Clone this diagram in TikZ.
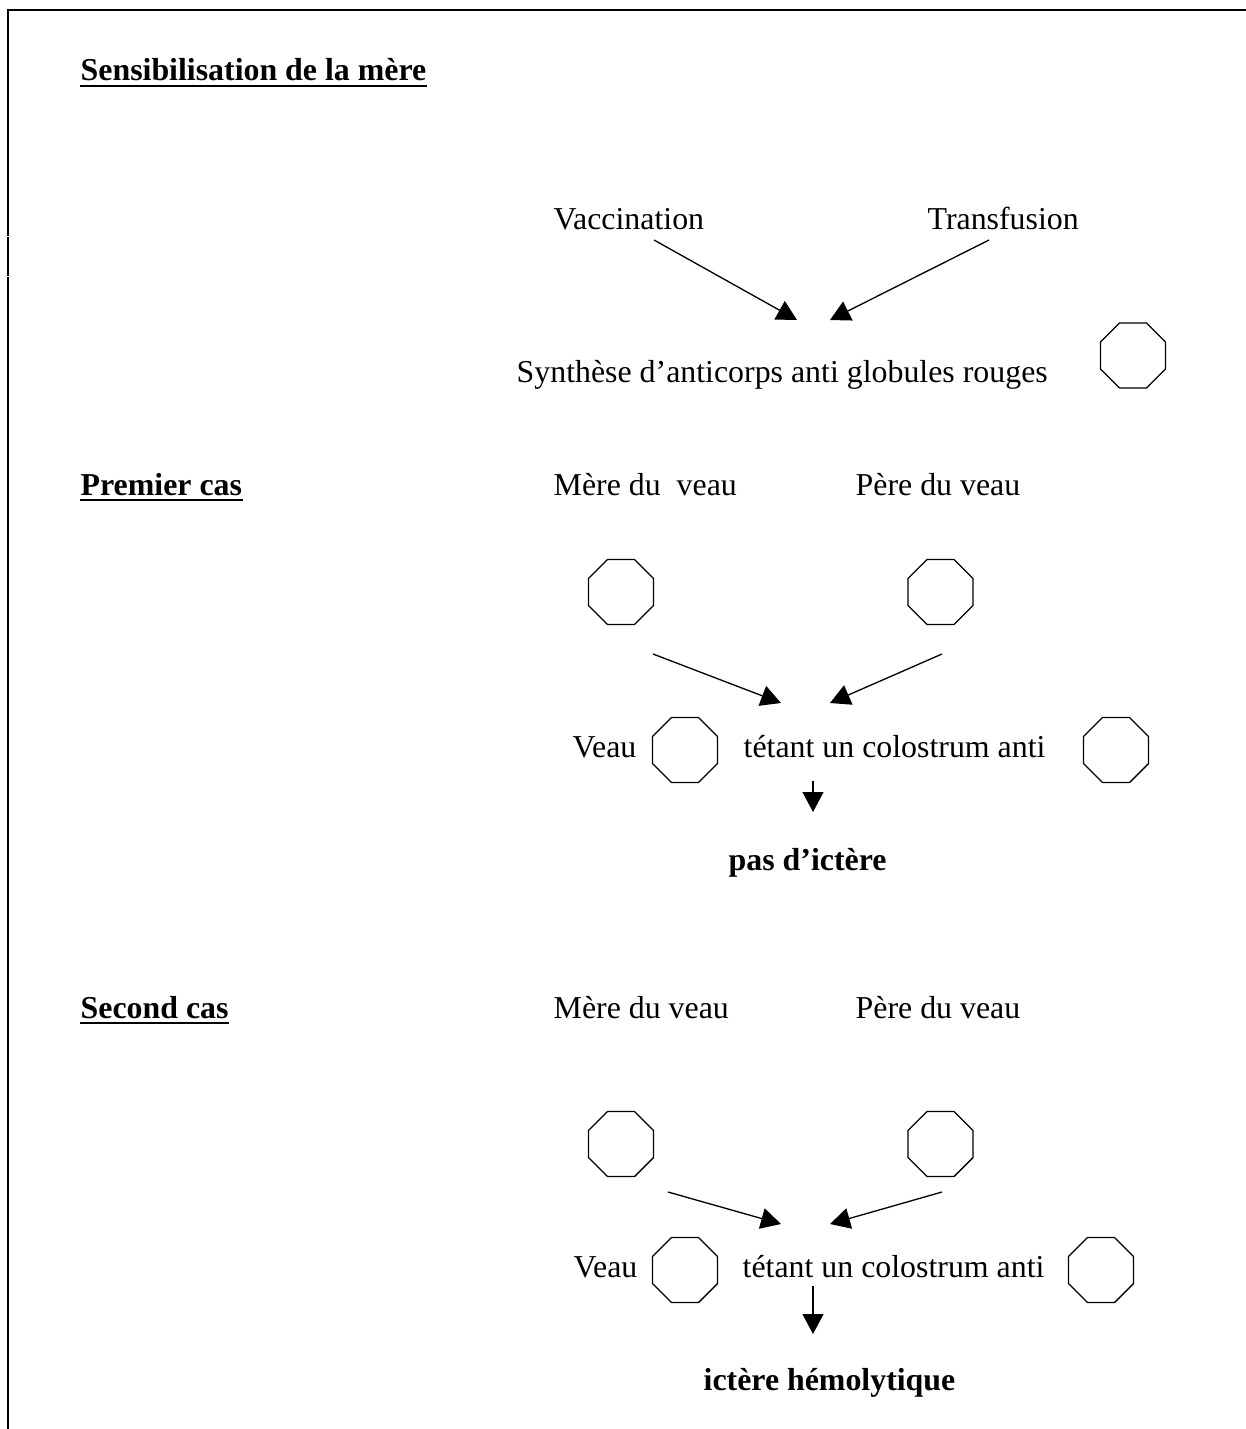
\documentclass[tikz,border=0pt]{standalone}
\usepackage{fontspec}
\setmainfont{Liberation Serif}
\usetikzlibrary{arrows.meta,shapes.geometric}

\begin{document}
\begin{tikzpicture}[x=0.02cm,y=-0.02cm,line width=0.75pt,
    txt/.style={anchor=base west,inner sep=0pt,font=\fontsize{18.14pt}{21.8pt}\selectfont},
    ttl/.style={txt,font=\fontsize{18.14pt}{21.8pt}\selectfont\bfseries},
    octo/.style={draw,regular polygon,regular polygon sides=8,minimum size=1.41cm,inner sep=0pt},
    fleche/.style={-{Triangle[length=0.4cm,width=0.42cm]}},
    souligne/.style={line width=1.3pt},
    cadre/.style={line width=1.1pt}]
    \useasboundingbox (0,0) rectangle (1246,1429);

    \draw[cadre] (8,236.5)--(8,10)--(1246,10);
    \draw[cadre] (8,237.5)--(8,276.5);
    \draw[cadre] (8,277.5)--(8,1429);

    \node[ttl] (sensib) at (80,81) {Sensibilisation de la mère};
    \draw[souligne] ([yshift=-0.1cm]sensib.base west)--([yshift=-0.1cm]sensib.base east);
    \node[txt] (vacc) at (553,230) {Vaccination};
    \node[txt] (transf) at (927,230) {Transfusion};
    \node[txt] (synth) at (516,382) {Synthèse d’anticorps anti globules rouges};
    \node[octo] (gr0) at (1133,355.5) {};
    \coordinate (vacc-a) at (654,240);
    \coordinate (transf-a) at (989,240);
    \coordinate (synth-g) at (797,320);
    \coordinate (synth-d) at (830,320);
    \draw[fleche] (vacc-a)--(synth-g);
    \draw[fleche] (transf-a)--(synth-d);

    \node[ttl] (cas1) at (80,495) {Premier cas};
    \draw[souligne] ([yshift=-0.1cm]cas1.base west)--([yshift=-0.1cm]cas1.base east);
    \node[txt] (mere1) at (553,495) {Mère du\ \ veau};
    \node[txt] (pere1) at (855,495) {Père du veau};
    \node[octo] (gm1) at (621,592) {};
    \node[octo] (gp1) at (940.5,592) {};
    \coordinate (gm1-a) at (653,654);
    \coordinate (gp1-a) at (942,654);
    \coordinate (veau1-g) at (781,703);
    \coordinate (veau1-d) at (830,703);
    \draw[fleche] (gm1-a)--(veau1-g);
    \draw[fleche] (gp1-a)--(veau1-d);
    \node[txt] (veau1) at (572,757) {Veau};
    \node[octo] (gv1) at (685,750) {};
    \node[txt] (tet1) at (743,757) {tétant un colostrum anti};
    \node[octo] (ga1) at (1116,750) {};
    \coordinate (tet1-a) at (813,781);
    \coordinate (res1-a) at (813,812);
    \draw[fleche] (tet1-a)--(res1-a);
    \node[ttl] (res1) at (728,870) {pas d’ictère};

    \node[ttl] (cas2) at (80,1018) {Second cas};
    \draw[souligne] ([yshift=-0.1cm]cas2.base west)--([yshift=-0.1cm]cas2.base east);
    \node[txt] (mere2) at (553,1018) {Mère du veau};
    \node[txt] (pere2) at (855,1018) {Père du veau};
    \node[octo] (gm2) at (621,1144) {};
    \node[octo] (gp2) at (940.5,1144) {};
    \coordinate (gm2-a) at (668,1192);
    \coordinate (gp2-a) at (942,1192);
    \coordinate (veau2-g) at (781,1224);
    \coordinate (veau2-d) at (830,1224);
    \draw[fleche] (gm2-a)--(veau2-g);
    \draw[fleche] (gp2-a)--(veau2-d);
    \node[txt] (veau2) at (573,1277) {Veau};
    \node[octo] (gv2) at (685,1270) {};
    \node[txt] (tet2) at (742,1277) {tétant un colostrum anti};
    \node[octo] (ga2) at (1101,1270) {};
    \coordinate (tet2-a) at (813,1286);
    \coordinate (res2-a) at (813,1334);
    \draw[fleche] (tet2-a)--(res2-a);
    \node[ttl] (res2) at (703,1390) {ictère hémolytique};
\end{tikzpicture}
\end{document}
